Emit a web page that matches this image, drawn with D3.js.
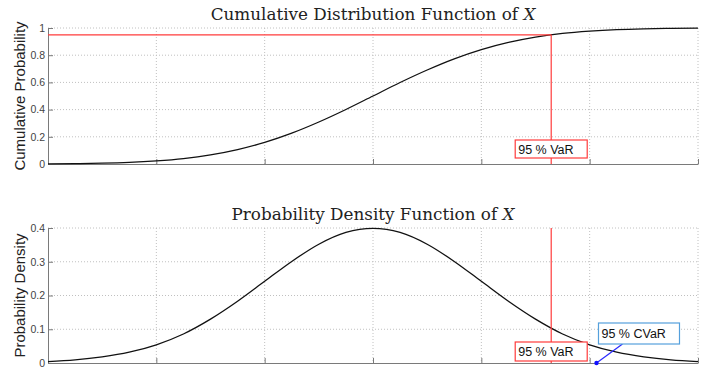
<!DOCTYPE html>
<html>
<head>
<meta charset="utf-8">
<script src="https://cdn.jsdelivr.net/npm/d3@7"></script>
<style>
  body { margin: 0; background: #fff; }
  svg { display: block; }
</style>
</head>
<body>
<svg id="chart" width="706" height="369"></svg>
<script>
// values (standard normal, x from -3 to 3)
const xs = [-3, -2.75, -2.5, -2.25, -2, -1.75, -1.5, -1.25, -1, -0.75, -0.5, -0.25, 0,
  0.25, 0.5, 0.75, 1, 1.25, 1.5, 1.75, 2, 2.25, 2.5, 2.75, 3];
const cdfValues = [0.001, 0.003, 0.006, 0.012, 0.023, 0.040, 0.067, 0.106, 0.159, 0.227, 0.309, 0.401, 0.5,
  0.599, 0.691, 0.773, 0.841, 0.894, 0.933, 0.960, 0.977, 0.988, 0.994, 0.997, 0.999];
const pdfValues = [0.004, 0.009, 0.018, 0.032, 0.054, 0.086, 0.130, 0.183, 0.242, 0.301, 0.352, 0.387, 0.399,
  0.387, 0.352, 0.301, 0.242, 0.183, 0.130, 0.086, 0.054, 0.032, 0.018, 0.009, 0.004];
const xTicks = [-3, -2, -1, 0, 1, 2, 3];
const cdfTicks = [0, 0.2, 0.4, 0.6, 0.8, 1];
const pdfTicks = [0, 0.1, 0.2, 0.3, 0.4];
const confLevel = 0.95;
const varX = 1.645;
const cvarX = 2.063;
const varLabel = "95 % VaR";
const cvarLabel = "95 % CVaR";

const svg = d3.select("#chart");
const left = 48, right = 698;
const RED = "#ff3b3b";
const BLUE = "#55a0dc";

const x = d3.scaleLinear().domain([-3, 3]).range([left, right]);

function panel(top, bottom, yMax, yTicks, values, title, yLabel) {
  const y = d3.scaleLinear().domain([0, yMax]).range([bottom, top]);
  const g = svg.append("g");

  // dotted grid
  g.append("g").selectAll("line").data(xTicks.slice(1)).join("line")
    .attr("x1", d => x(d)).attr("x2", d => x(d))
    .attr("y1", top).attr("y2", bottom)
    .attr("stroke", "#c0c0c0").attr("stroke-dasharray", "1,2");
  g.append("g").selectAll("line").data(yTicks.slice(1)).join("line")
    .attr("x1", left).attr("x2", right)
    .attr("y1", d => y(d)).attr("y2", d => y(d))
    .attr("stroke", "#c0c0c0").attr("stroke-dasharray", "1,2");

  // axes, inward ticks
  const ya = g.append("g").attr("transform", `translate(${left},0)`)
    .call(d3.axisLeft(y).tickValues(yTicks).tickFormat(d3.format("~g")).tickSizeInner(-5).tickSizeOuter(0).tickPadding(3));
  const xa = g.append("g").attr("transform", `translate(0,${bottom})`)
    .call(d3.axisBottom(x).tickValues(xTicks).tickFormat("").tickSizeInner(-5).tickSizeOuter(0));
  [ya, xa].forEach(a => {
    a.select(".domain").attr("stroke", "#7a7a7a");
    a.selectAll(".tick line").attr("stroke", "#7a7a7a");
    a.selectAll("text").attr("fill", "#444").attr("font-family", "Liberation Sans, Arial, sans-serif").attr("font-size", 10.5);
  });

  g.append("path")
    .datum(xs.map((d, i) => [d, values[i]]))
    .attr("fill", "none").attr("stroke", "#111").attr("stroke-width", 1.3)
    .attr("d", d3.line().x(d => x(d[0])).y(d => y(d[1])).curve(d3.curveMonotoneX));

  const t = svg.append("text")
    .attr("x", (left + right) / 2).attr("y", top - 8)
    .attr("text-anchor", "middle")
    .attr("font-family", "DejaVu Serif, serif").attr("font-size", 16.8).attr("fill", "#222");
  t.append("tspan").text(title + " ");
  t.append("tspan").attr("font-style", "italic").text("X");

  svg.append("text")
    .attr("transform", `translate(25,${(top + bottom) / 2}) rotate(-90)`)
    .attr("text-anchor", "middle")
    .attr("font-family", "Liberation Sans, Arial, sans-serif").attr("font-size", 15).attr("fill", "#222")
    .text(yLabel);

  return { g, y };
}

function labelBox(g, cx, yBottom, w, h, text, color) {
  g.append("rect")
    .attr("x", cx - w / 2).attr("y", yBottom - h).attr("width", w).attr("height", h)
    .attr("fill", "#fff").attr("stroke", color).attr("stroke-width", 1.2);
  g.append("text")
    .attr("x", cx - w / 2 + 3).attr("y", yBottom - h / 2 + 4.5)
    .attr("font-family", "Liberation Sans, Arial, sans-serif").attr("font-size", 12.5).attr("fill", "#111")
    .text(text);
}

// top: CDF
const p1 = panel(28, 164, 1, cdfTicks, cdfValues, "Cumulative Distribution Function of", "Cumulative Probability");
p1.g.append("line")
  .attr("x1", left).attr("x2", x(varX))
  .attr("y1", p1.y(confLevel)).attr("y2", p1.y(confLevel))
  .attr("stroke", RED).attr("stroke-width", 1.2);
p1.g.append("line")
  .attr("x1", x(varX)).attr("x2", x(varX))
  .attr("y1", p1.y(confLevel)).attr("y2", p1.y(0))
  .attr("stroke", RED).attr("stroke-width", 1.2);
labelBox(p1.g, x(varX), p1.y(0) - 6, 72, 18, varLabel, RED);

// bottom: PDF
const p2 = panel(228, 363, 0.4, pdfTicks, pdfValues, "Probability Density Function of", "Probability Density");
p2.g.append("line")
  .attr("x1", x(varX)).attr("x2", x(varX))
  .attr("y1", p2.y(0.4)).attr("y2", p2.y(0))
  .attr("stroke", RED).attr("stroke-width", 1.2);
labelBox(p2.g, x(varX), p2.y(0) - 2, 72, 19, varLabel, RED);

// CVaR pointer
const boxL = x(cvarX) + 2, boxB = p2.y(0) - 19;
p2.g.append("line")
  .attr("x1", boxL + 24).attr("y1", boxB)
  .attr("x2", x(cvarX)).attr("y2", p2.y(0))
  .attr("stroke", "#2a2aff").attr("stroke-width", 1.2);
p2.g.append("circle")
  .attr("cx", x(cvarX)).attr("cy", p2.y(0)).attr("r", 2.2).attr("fill", "#1010ff");
labelBox(p2.g, boxL + 40.5, boxB, 81, 21, cvarLabel, BLUE);
</script>
</body>
</html>
